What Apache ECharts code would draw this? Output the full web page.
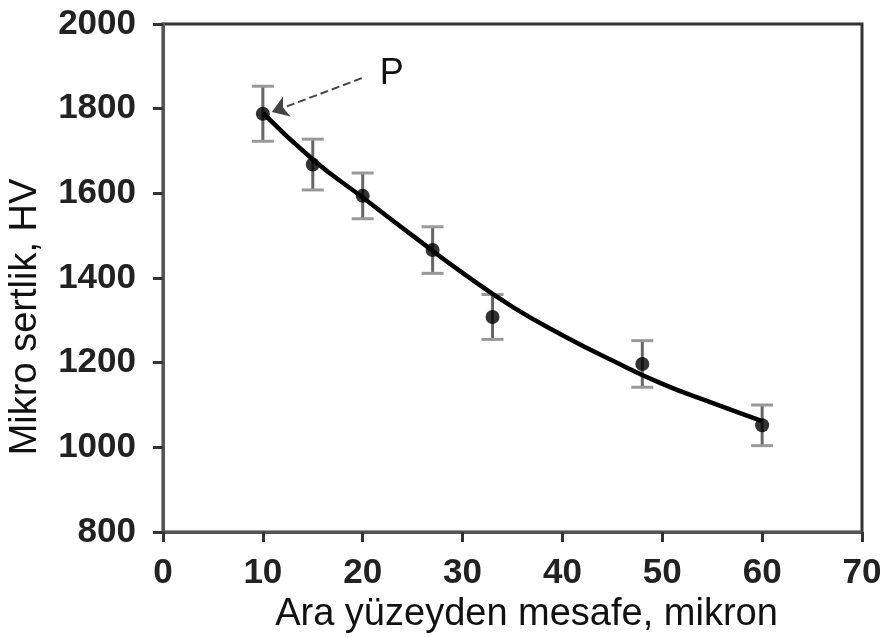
<!DOCTYPE html>
<html>
<head>
<meta charset="utf-8">
<script src="https://cdn.jsdelivr.net/npm/echarts@6/dist/echarts.min.js"></script>
<style>
  html, body { margin: 0; padding: 0; background: #fff; }
  #chart { width: 885px; height: 637px; }
</style>
</head>
<body>
<div id="chart"></div>
<script>
// measured points (distance in micron, hardness HV) and their error
var pointX = [10, 15, 20, 27, 33, 48, 60]
var pointY = [1788, 1668, 1594, 1466, 1308, 1197, 1052]
var pointErr = [65, 60, 54, 55, 53, 55, 48]

// fitted trend line
var curveX = [10, 15, 20, 25, 30, 35, 40, 45, 50, 55, 60]
var curveY = [1790, 1680, 1590, 1500, 1412, 1332, 1265, 1205, 1150, 1105, 1062]

var xTicks = [0, 10, 20, 30, 40, 50, 60, 70]
var yTicks = [800, 1000, 1200, 1400, 1600, 1800, 2000]

var font = "'Liberation Sans', Arial, sans-serif"

var myChart = echarts.init(document.getElementById('chart'))

var points = pointX.map((x, i) => [x, pointY[i]])
var curve = curveX.map((x, i) => [x, curveY[i]])
var errData = pointX.map((x, i) => [x, pointY[i] - pointErr[i], pointY[i] + pointErr[i]])

myChart.setOption({
  animation: false,
  grid: {
    left: 163, right: 23, top: 24, bottom: 105,
    outerBoundsMode: 'none',
    containLabel: false,
    show: true, borderColor: '#333', borderWidth: 3
  },
  xAxis: {
    type: 'value',
    min: xTicks[0], max: xTicks[xTicks.length - 1], interval: 10,
    name: 'Ara yüzeyden mesafe, mikron',
    nameLocation: 'middle',
    nameGap: 64,
    nameTextStyle: { fontFamily: font, fontSize: 38, color: '#111', padding: [0, 0, 0, 28] },
    axisLine: { lineStyle: { color: '#555', width: 3 } },
    axisTick: { inside: false, length: 10, lineStyle: { color: '#333', width: 3 } },
    axisLabel: { margin: 24, fontFamily: font, fontSize: 35, fontWeight: 'bold', color: '#222' },
    splitLine: { show: false }
  },
  yAxis: {
    type: 'value',
    min: yTicks[0], max: yTicks[yTicks.length - 1], interval: 200,
    name: 'Mikro sertlik, HV',
    nameLocation: 'middle',
    nameGap: 118,
    nameTextStyle: { fontFamily: font, fontSize: 38, color: '#111', padding: [0, 78, 0, 0] },
    axisLine: { lineStyle: { color: '#555', width: 3 } },
    axisTick: { inside: false, length: 10, lineStyle: { color: '#333', width: 3 } },
    axisLabel: {
      margin: 27, fontFamily: font, fontSize: 35, fontWeight: 'bold', color: '#222',
      formatter: function (v) { return String(v) }
    },
    splitLine: { show: false }
  },
  series: [
    {
      type: 'custom',
      data: errData,
      z: 2,
      renderItem: function (params, api) {
        var lo = api.coord([api.value(0), api.value(1)])
        var hi = api.coord([api.value(0), api.value(2)])
        var w = 11
        return {
          type: 'group',
          children: [
            { type: 'line', shape: { x1: lo[0], y1: lo[1], x2: hi[0], y2: hi[1] }, style: { stroke: '#666', lineWidth: 3 } },
            { type: 'line', shape: { x1: lo[0] - w, y1: lo[1], x2: lo[0] + w, y2: lo[1] }, style: { stroke: '#999', lineWidth: 3 } },
            { type: 'line', shape: { x1: hi[0] - w, y1: hi[1], x2: hi[0] + w, y2: hi[1] }, style: { stroke: '#999', lineWidth: 3 } }
          ]
        }
      }
    },
    {
      type: 'line',
      data: curve,
      smooth: true,
      showSymbol: false,
      z: 3,
      lineStyle: { color: '#000', width: 4.5 },
      markLine: {
        silent: true,
        symbol: ['none', 'arrow'],
        symbolSize: 16,
        lineStyle: { type: 'dashed', color: '#444', width: 2 },
        label: { show: false },
        data: [[{ coord: [19.9, 1872] }, { coord: [10.9, 1792] }]]
      },
      markPoint: {
        silent: true,
        symbol: 'circle',
        symbolSize: 1,
        itemStyle: { color: 'rgba(0,0,0,0)' },
        label: { show: true, position: 'inside', formatter: 'P', fontFamily: font, fontSize: 36, color: '#111' },
        data: [{ coord: [22.9, 1882] }]
      }
    },
    {
      type: 'scatter',
      data: points,
      symbol: 'circle',
      symbolSize: 14,
      z: 4,
      itemStyle: { color: '#000' }
    }
  ]
})
</script>
</body>
</html>
